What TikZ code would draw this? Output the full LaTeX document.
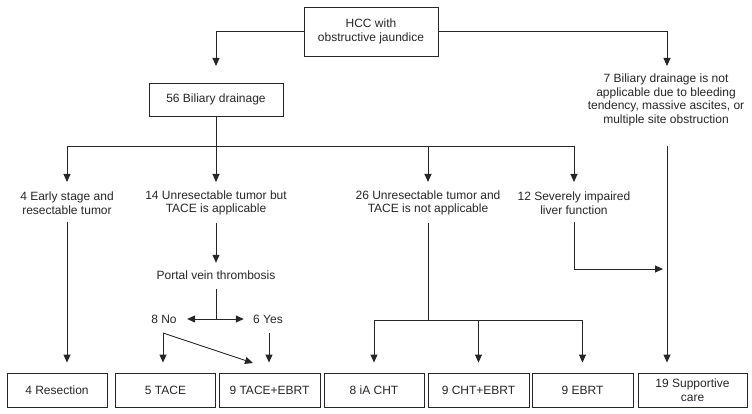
\documentclass[tikz,border=0pt]{standalone}
\usepackage{fontspec}
\setmainfont{Liberation Sans}
\usetikzlibrary{arrows.meta}

\tikzset{every picture/.style={line width=0.9pt}}
\tikzset{
  box/.style={draw, minimum height=34pt, inner sep=0pt, align=center},
  txt/.style={inner sep=0pt, align=center},
  arr/.style={-{Triangle[length=8pt,width=7pt]}},
  darr/.style={{Triangle[length=8pt,width=7pt]}-{Triangle[length=8pt,width=7pt]}},
  gap/.style={shorten >=10pt},
}

\begin{document}
\begin{tikzpicture}[x=1pt,y=1pt,yscale=-1,font=\fontsize{12}{13.5}\selectfont,color=black!85]
\useasboundingbox (0,0) rectangle (752,414);

% Boxes
\node[box, minimum width=134pt, minimum height=49pt] (hcc) at (371,31.5) {HCC with\\obstructive jaundice};
\node[box, minimum width=134pt, minimum height=33pt] (drain) at (216,99.5) {56 Biliary drainage};

% Text Node
\node[txt] (nodrain) at (666,100) {7 Biliary drainage is not\\applicable due to bleeding\\tendency, massive ascites, or\\multiple site obstruction};
% Text Node
\node[txt] (early) at (67,203) {4 Early stage and\\resectable tumor};
% Text Node
\node[txt] (unres) at (216,203) {14 Unresectable tumor but\\TACE is applicable};
% Text Node
\node[txt] (notace) at (428,203) {26 Unresectable tumor and\\TACE is not applicable};
% Text Node
\node[txt] (liver) at (574,203) {12 Severely impaired\\liver function};
% Text Node
\node[txt] (pvt) at (216,275) {Portal vein thrombosis};
% Text Node
\node[txt] (pvtno) at (164,319) {8 No};
% Text Node
\node[txt] (pvtyes) at (268,319) {6 Yes};

% Bottom boxes
\node[box, minimum width=100pt] (resect) at (57,390) {4 Resection};
\node[box, minimum width=100pt] (tace) at (165.5,390) {5 TACE};
\node[box, minimum width=101pt] (tacebrt) at (269.5,390) {9 TACE+EBRT};
\node[box, minimum width=100pt] (iacht) at (374,390) {8 iA CHT};
\node[box, minimum width=101pt] (chtebrt) at (478.5,390) {9 CHT+EBRT};
\node[box, minimum width=101pt] (ebrt) at (582.5,390) {9 EBRT};
\node[box, minimum width=109pt] (support) at (692.5,390) {19 Supportive\\care};

% Free ends
\coordinate (dtop) at (216,66);
\coordinate (ntop) at (667,66);
\coordinate (split) at (216,146);
\coordinate (lvend) at (663,269);
\coordinate (nofork) at (163,333);
\coordinate (yesfork) at (269,333);
\coordinate (diagend) at (253,363);
\coordinate (tfork) at (428,320);

% Top split
\draw[arr] (hcc.west) -| (dtop);
\draw[arr] (hcc.east) -| (ntop);
\draw (drain.south) -- (split);
\draw (split -| early) -- (split -| liver);
\foreach \n in {early,unres,notace,liver}
  \draw[arr] (split -| \n) -- ++(0,36);

% Right branch
\draw[arr,gap] (split -| ntop) -- (ntop |- support.north);
\draw[arr] (liver.south) ++(0,7) |- (lvend);

% Early stage
\draw[arr,gap] (early.south) ++(0,7) -- (early |- resect.north);

% TACE applicable
\draw[arr] (unres.south) ++(0,7) -- ++(0,40);
\draw (pvt.south) ++(0,9) -- (pvt |- pvtno);
\draw[darr, shorten <=10pt, shorten >=9pt] (pvtno.east) -- (pvtyes.west);
\draw[arr,gap] (nofork) -- (nofork |- tace.north);
\draw[arr] (nofork) -- (diagend);
\draw[arr,gap] (yesfork) -- (yesfork |- tacebrt.north);

% TACE not applicable
\draw (notace.south) ++(0,7) -- (tfork);
\draw (iacht |- tfork) -- (ebrt |- tfork);
\foreach \b in {iacht,chtebrt,ebrt}
  \draw[arr,gap] (\b |- tfork) -- (\b.north);

\end{tikzpicture}
\end{document}
